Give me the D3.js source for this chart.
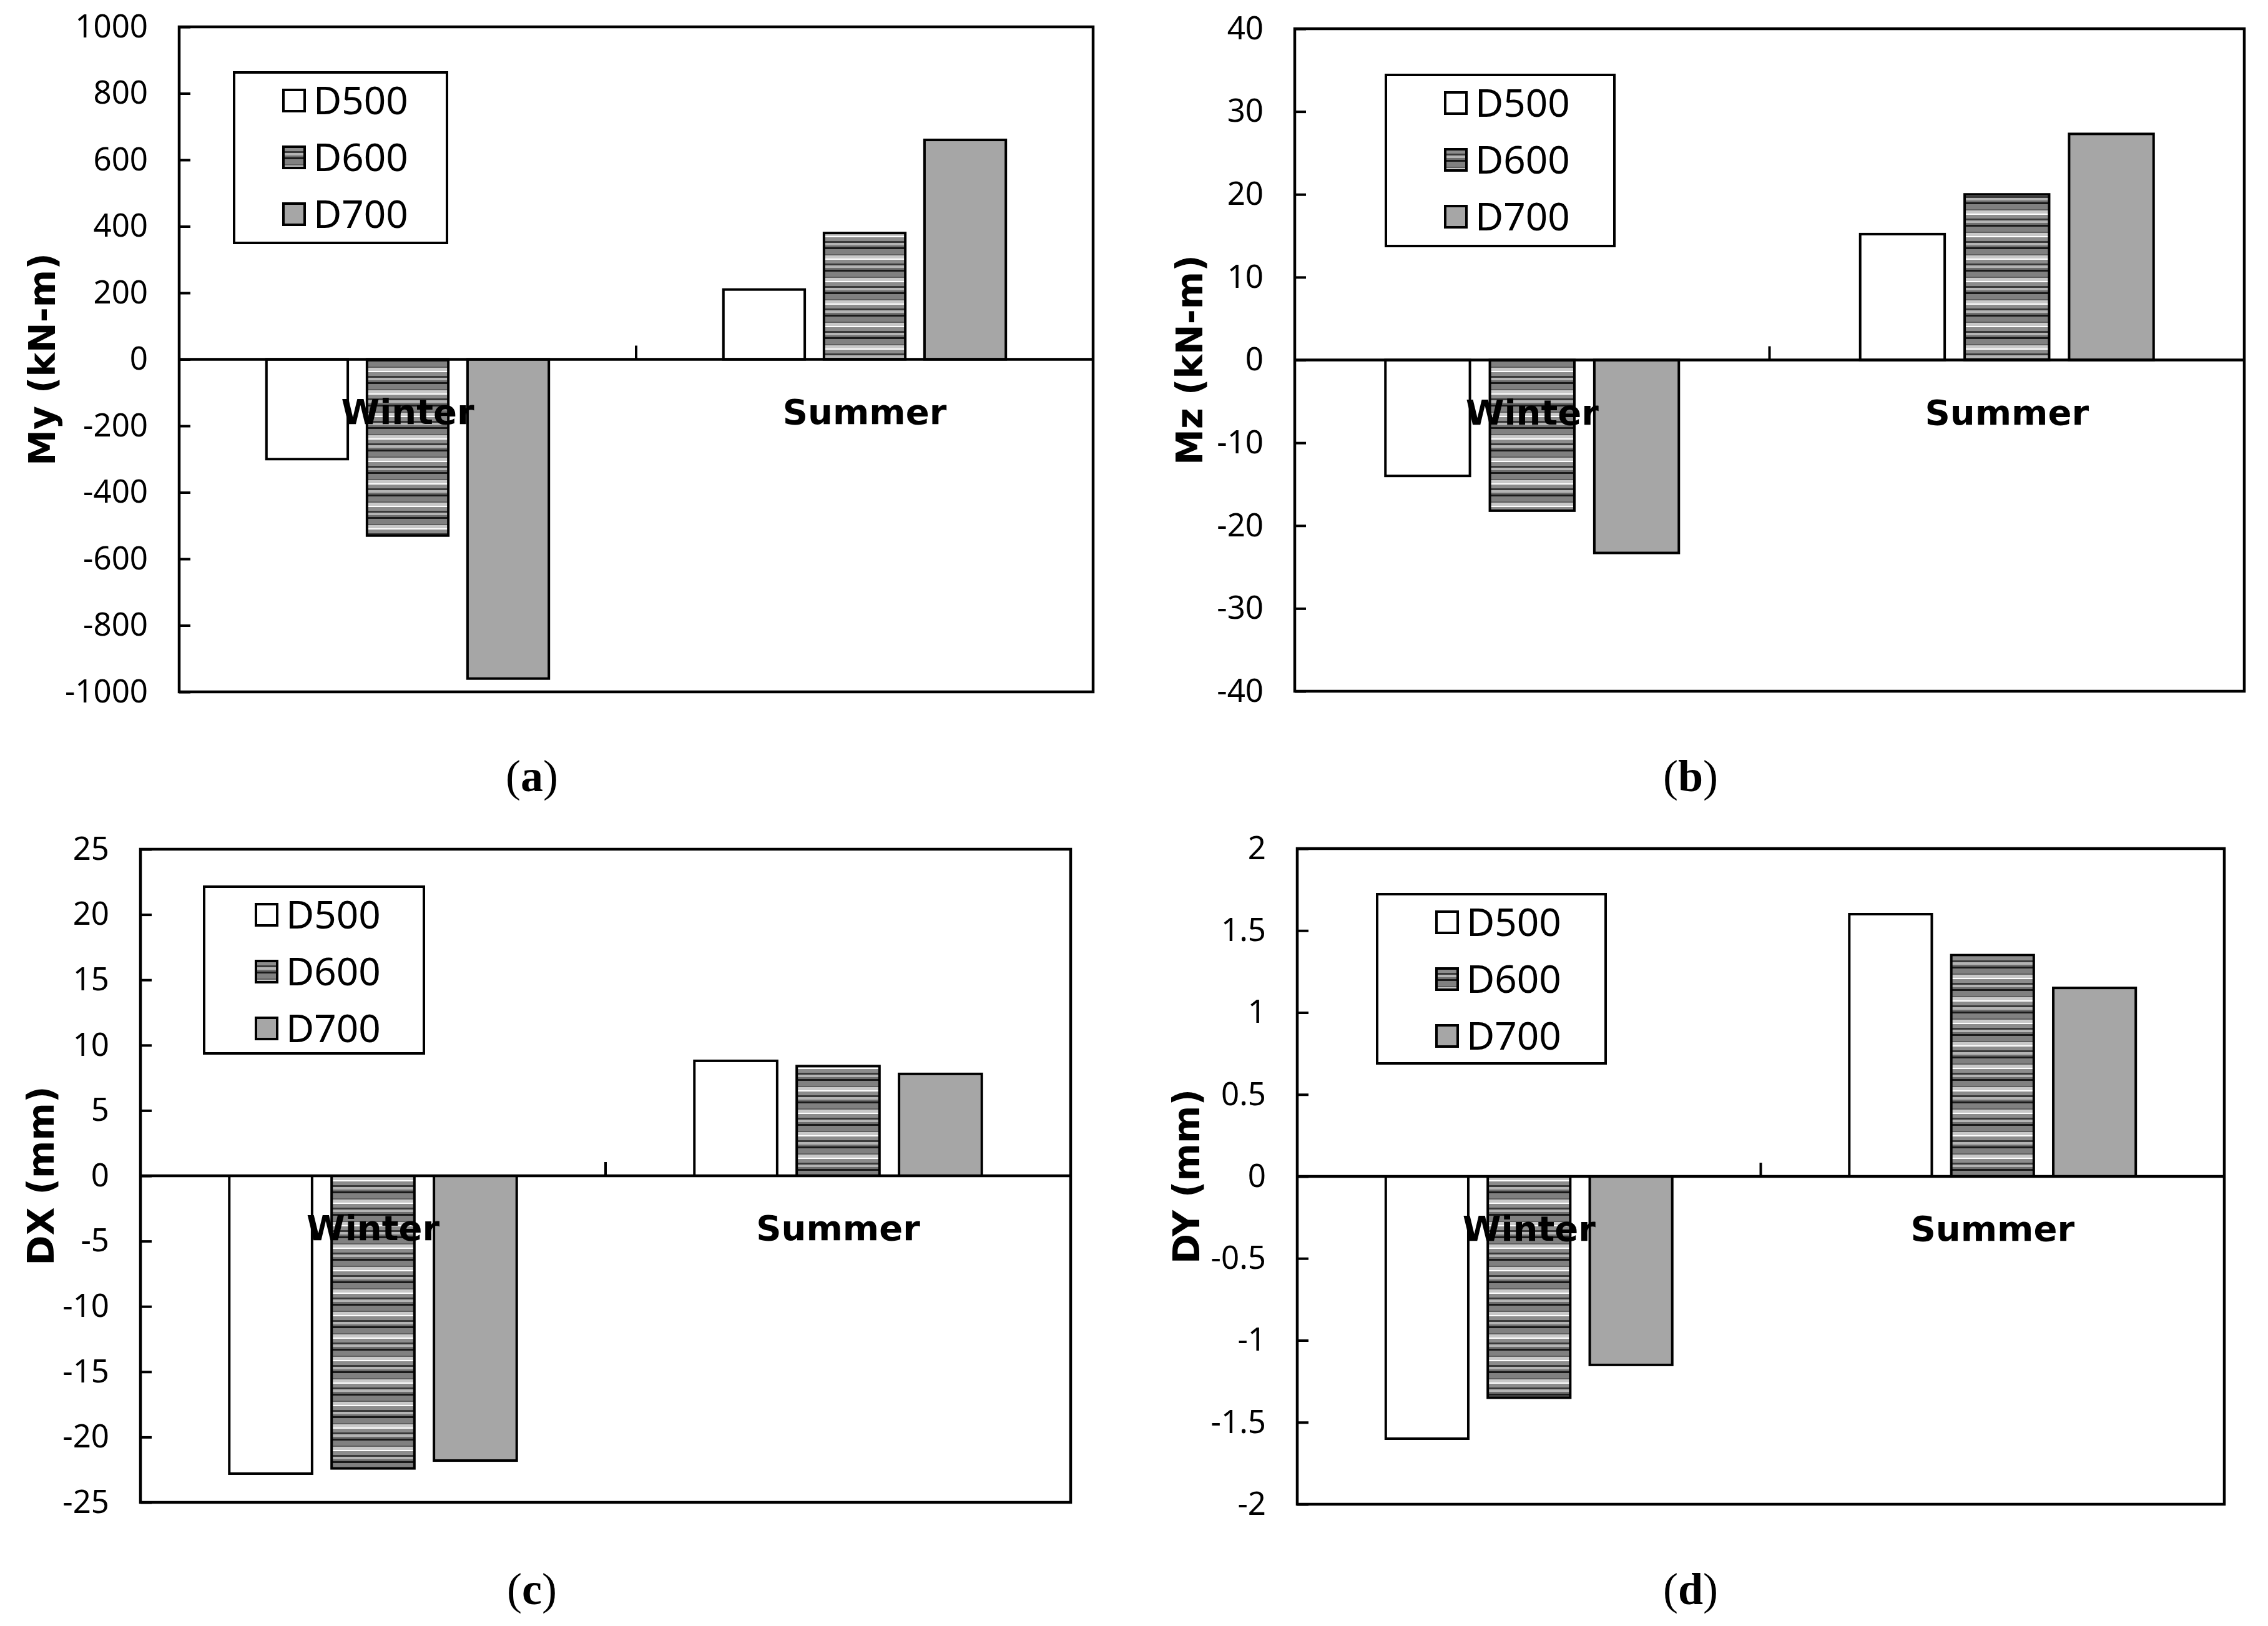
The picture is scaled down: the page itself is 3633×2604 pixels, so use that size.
<!DOCTYPE html>
<html>
<head>
<meta charset="utf-8">
<script src="https://cdn.jsdelivr.net/npm/d3@7"></script>
<style>
  body { margin: 0; background: #fff; }
</style>
</head>
<body>
<svg id="fig"></svg>
<script>
var categories = ["Winter", "Summer"];
var series = ["D500", "D600", "D700"];

// values read per series: [Winter, Summer]
var myD500 = [-300, 210], myD600 = [-530, 380], myD700 = [-960, 660];
var mzD500 = [-14, 15.2], mzD600 = [-18.2, 20], mzD700 = [-23.3, 27.3];
var dxD500 = [-22.8, 8.8], dxD600 = [-22.4, 8.4], dxD700 = [-21.8, 7.8];
var dyD500 = [-1.6, 1.6], dyD600 = [-1.35, 1.35], dyD700 = [-1.15, 1.15];

var myTicks = [-1000, -800, -600, -400, -200, 0, 200, 400, 600, 800, 1000];
var mzTicks = [-40, -30, -20, -10, 0, 10, 20, 30, 40];
var dxTicks = [-25, -20, -15, -10, -5, 0, 5, 10, 15, 20, 25];
var dyTicks = [-2, -1.5, -1, -0.5, 0, 0.5, 1, 1.5, 2];

var titles = ["My (kN-m)", "Mz (kN-m)", "DX (mm)", "DY (mm)"];
var tags = ["a", "b", "c", "d"];

var W = 3633, H = 2604;
var svg = d3.select("#fig").attr("width", W).attr("height", H);
svg.append("rect").attr("width", W).attr("height", H).attr("fill", "#fff");

// striped fill used for D600
var defs = svg.append("defs");
var pat = defs.append("pattern")
  .attr("id", "stripes")
  .attr("patternUnits", "userSpaceOnUse")
  .attr("width", 40).attr("height", 36);
var stripeRows = [
  [0, 3, "#1a1a1a"], [3, 8, "#808080"], [11, 2, "#5f5f5f"], [13, 5, "#c8c8c8"],
  [18, 2, "#ffffff"], [20, 6, "#8c8c8c"], [26, 3, "#3a3a3a"], [29, 4, "#b4b4b4"],
  [33, 3, "#6e6e6e"]
];
stripeRows.forEach(function (r) {
  pat.append("rect").attr("x", 0).attr("y", r[0]).attr("width", 40).attr("height", r[1]).attr("fill", r[2]);
});

var fills = { "D500": "#ffffff", "D600": "url(#stripes)", "D700": "#a6a6a6" };

var panels = [
  { values: [myD500, myD600, myD700], ticks: myTicks, left: 287, right: 1751, top: 43, bottom: 1108,
    titleX: 67, legend: { x: 375, y: 116, w: 341, h: 273, sw: 79 }, tagX: 852, tagY: 1242 },
  { values: [mzD500, mzD600, mzD700], ticks: mzTicks, left: 2074, right: 3595, top: 46, bottom: 1107,
    titleX: 1905, legend: { x: 2220, y: 120, w: 366, h: 274, sw: 95 }, tagX: 2708, tagY: 1242 },
  { values: [dxD500, dxD600, dxD700], ticks: dxTicks, left: 225, right: 1715, top: 1360, bottom: 2406,
    titleX: 65, legend: { x: 327, y: 1420, w: 352, h: 267, sw: 83 }, tagX: 852, tagY: 2544 },
  { values: [dyD500, dyD600, dyD700], ticks: dyTicks, left: 2078, right: 3563, top: 1359, bottom: 2409,
    titleX: 1900, legend: { x: 2206, y: 1432, w: 366, h: 271, sw: 95 }, tagX: 2708, tagY: 2544 }
];

panels.forEach(function (p, k) {
  var g = svg.append("g");
  var y = d3.scaleLinear()
    .domain([d3.min(p.ticks), d3.max(p.ticks)])
    .range([p.bottom, p.top]);
  var x = d3.scaleBand().domain(categories).range([p.left, p.right]);
  var xInner = d3.scaleBand().domain(series)
    .range([0, x.bandwidth()])
    .paddingInner(0.191)
    .paddingOuter(0.868);

  // bars
  series.forEach(function (s, i) {
    g.append("g").selectAll("rect")
      .data(p.values[i])
      .enter().append("rect")
      .attr("x", function (d, j) { return x(categories[j]) + xInner(s); })
      .attr("y", function (d) { return Math.min(y(d), y(0)); })
      .attr("width", xInner.bandwidth())
      .attr("height", function (d) { return Math.abs(y(d) - y(0)); })
      .attr("fill", fills[s])
      .attr("stroke", "#000")
      .attr("stroke-width", 4);
  });

  // zero line with inward category ticks
  g.append("line")
    .attr("x1", p.left).attr("x2", p.right)
    .attr("y1", y(0)).attr("y2", y(0))
    .attr("stroke", "#000").attr("stroke-width", 4.5);
  g.append("line")
    .attr("x1", x(categories[1])).attr("x2", x(categories[1]))
    .attr("y1", y(0)).attr("y2", y(0) - 22)
    .attr("stroke", "#000").attr("stroke-width", 4);

  // y axis, ticks pointing inside
  var yAxis = g.append("g")
    .attr("transform", "translate(" + p.left + ",0)")
    .call(d3.axisLeft(y).tickValues(p.ticks).tickSize(-18).tickPadding(50)
      .tickFormat(function (d) { return String(d); }));
  yAxis.select(".domain").remove();
  yAxis.selectAll("line").attr("stroke", "#000").attr("stroke-width", 4);
  yAxis.selectAll("text")
    .attr("fill", "#000")
    .style("font-family", "'Noto Sans', sans-serif")
    .style("font-size", "51px");

  // plot frame
  g.append("rect")
    .attr("x", p.left).attr("y", p.top)
    .attr("width", p.right - p.left).attr("height", p.bottom - p.top)
    .attr("fill", "none").attr("stroke", "#000").attr("stroke-width", 4.5);

  // category labels, drawn above the bars
  g.append("g").selectAll("text")
    .data(categories)
    .enter().append("text")
    .attr("x", function (d) { return x(d) + x.bandwidth() / 2; })
    .attr("y", y(0) + 83)
    .attr("dy", "0.36em")
    .attr("text-anchor", "middle")
    .style("font-family", "'DejaVu Sans', sans-serif")
    .style("font-weight", "bold")
    .style("font-size", "56px")
    .text(function (d) { return d; });

  // y title
  g.append("text")
    .attr("transform", "translate(" + p.titleX + "," + ((p.top + p.bottom) / 2) + ") rotate(-90)")
    .attr("text-anchor", "middle")
    .attr("dy", "0.36em")
    .style("font-family", "'DejaVu Sans', sans-serif")
    .style("font-weight", "bold")
    .style("font-size", "58px")
    .text(titles[k]);

  // legend
  var L = p.legend;
  var leg = g.append("g").attr("transform", "translate(" + L.x + "," + L.y + ")");
  leg.append("rect")
    .attr("width", L.w).attr("height", L.h)
    .attr("fill", "#fff").attr("stroke", "#000").attr("stroke-width", 4);
  var rows = leg.selectAll(".row")
    .data(series)
    .enter().append("g")
    .attr("class", "row")
    .attr("transform", function (d, i) { return "translate(" + L.sw + "," + (45 + i * 91) + ")"; });
  rows.append("rect")
    .attr("x", 0).attr("y", -17)
    .attr("width", 34).attr("height", 34)
    .attr("fill", function (d) { return fills[d]; })
    .attr("stroke", "#000").attr("stroke-width", 4);
  rows.append("text")
    .attr("x", 48)
    .attr("dy", "0.36em")
    .style("font-family", "'Noto Sans', sans-serif")
    .style("font-size", "62px")
    .text(function (d) { return d; });

  // panel tag
  var tag = svg.append("text")
    .attr("x", p.tagX).attr("y", p.tagY)
    .attr("dy", "0.35em")
    .attr("text-anchor", "middle")
    .style("font-family", "'Liberation Serif', serif")
    .style("font-size", "72px");
  tag.append("tspan").text("(");
  tag.append("tspan").style("font-weight", "bold").text(tags[k]);
  tag.append("tspan").text(")");
});
</script>
</body>
</html>
